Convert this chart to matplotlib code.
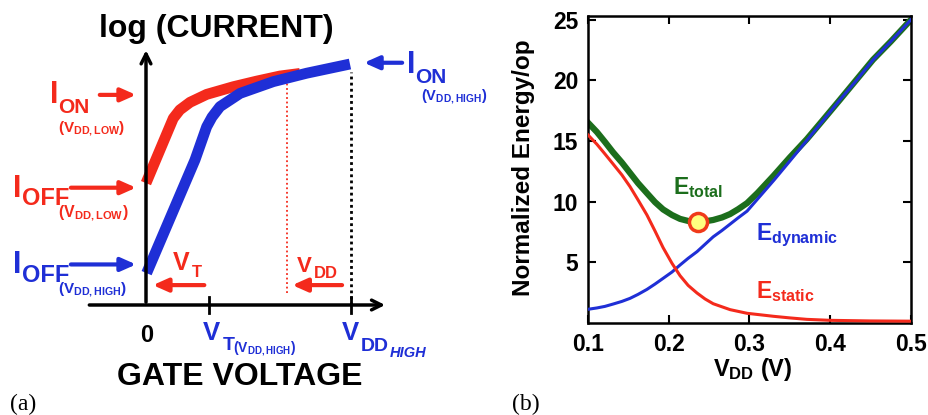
import matplotlib
matplotlib.use('Agg')
import matplotlib.pyplot as plt
from matplotlib.transforms import Affine2D

# panel (a): schematic transfer curves
# gate voltage in units of VDD_HIGH, current in arbitrary log units
vg_low = [0.0, 0.068, 0.133, 0.165, 0.215, 0.296, 0.426, 0.54, 0.654, 0.751]
logi_low = [4.78, 6.08, 7.32, 7.65, 7.95, 8.26, 8.56, 8.78, 8.98, 9.08]
vg_high = [0.003, 0.239, 0.296, 0.322, 0.361, 0.459, 0.621, 0.784, 0.995]
logi_high = [1.25, 5.69, 6.99, 7.37, 7.78, 8.30, 8.76, 9.09, 9.45]
vt_high = 0.307
vdd_low = 0.688
vdd_high = 1.0

# panel (b): normalized energy per operation
vdd_t = [0.100, 0.111, 0.121, 0.131, 0.142, 0.152, 0.162, 0.173, 0.183, 0.193,
         0.204, 0.214, 0.224, 0.235, 0.245, 0.255, 0.266, 0.276, 0.286, 0.297,
         0.31, 0.33, 0.35, 0.371, 0.39, 0.412, 0.43, 0.453, 0.475, 0.50]
e_total = [16.51, 15.74, 14.92, 14.07, 13.22, 12.37, 11.52, 10.70, 9.96, 9.36,
           8.90, 8.58, 8.41, 8.35, 8.38, 8.49, 8.70, 8.98, 9.38, 9.88,
           10.72, 12.15, 13.65, 15.15, 16.65, 18.4, 19.85, 21.7, 23.2, 25.0]
vdd_d = [0.100, 0.111, 0.121, 0.131, 0.142, 0.152, 0.162, 0.173, 0.183, 0.193,
         0.204, 0.214, 0.224, 0.235, 0.245, 0.255, 0.266, 0.276, 0.286, 0.297,
         0.33, 0.35, 0.371, 0.39, 0.412, 0.43, 0.453, 0.475, 0.50]
e_dynamic = [1.13, 1.24, 1.37, 1.56, 1.78, 2.03, 2.36, 2.77, 3.21, 3.68,
             4.20, 4.78, 5.33, 5.88, 6.49, 7.10, 7.63, 8.15, 8.67, 9.22,
             11.75, 13.35, 15.05, 16.6, 18.39, 19.8, 21.68, 23.2, 25.0]
vdd_s = [0.100, 0.111, 0.121, 0.131, 0.142, 0.152, 0.162, 0.173, 0.183, 0.193,
         0.204, 0.214, 0.224, 0.235, 0.245, 0.255, 0.276, 0.297, 0.33, 0.35,
         0.371, 0.40, 0.45, 0.50]
e_static = [15.50, 14.73, 13.93, 13.11, 12.20, 11.24, 10.14, 8.90, 7.58, 6.21,
            4.92, 3.90, 3.10, 2.47, 1.98, 1.59, 1.10, 0.80, 0.55, 0.42,
            0.30, 0.22, 0.17, 0.15]
v_opt = 0.236
e_opt = 8.32

RED = '#f42a1c'
BLUE = '#1f2fd6'
GREEN = '#1c6e1c'

plt.rcParams['font.family'] = 'Liberation Sans'
plt.rcParams['font.weight'] = 'bold'
plt.rcParams['mathtext.fontset'] = 'custom'
plt.rcParams['mathtext.rm'] = 'Liberation Sans:bold'
plt.rcParams['mathtext.bf'] = 'Liberation Sans:bold'
plt.rcParams['mathtext.it'] = 'Liberation Sans:bold:italic'

fig = plt.figure(figsize=(9.29, 4.15), dpi=100)
# label placement in image pixels (origin top left)
PX = Affine2D().scale(1 / 929, -1 / 415).translate(0, 1) + fig.transFigure


def put(parts, color):
    for x, y, s, size, style in parts:
        fig.text(x, y, s, transform=PX, fontsize=size, color=color,
                 style=style, va='baseline')


# ---------- panel (a) ----------
ax = fig.add_axes([0, 0, 500 / 929, 1])
ax.set_xlim(-146 / 205, (500 - 146) / 205)
ax.set_ylim(-110 / 25.5, 305 / 25.5)
ax.axis('off')

head = '->,head_length=0.7,head_width=0.35'
ax.annotate('', xy=(0, 10.1), xytext=(0, 0),
            arrowprops=dict(arrowstyle=head, lw=2.5, color='k'))
ax.annotate('', xy=(1.18, 0), xytext=(-0.29, 0),
            arrowprops=dict(arrowstyle=head, lw=2.5, color='k'))
for v in [vt_high, vdd_high]:
    ax.plot([v, v], [-0.32, 0.32], color='k', lw=2)

ax.plot([vdd_low, vdd_low], [0.47, 8.82], color=RED, lw=1.3, ls=(0, (1, 1.5)))
ax.plot([vdd_high, vdd_high], [0, 9.14], color='k', lw=2, ls=(0, (1, 1.2)))

ax.plot(vg_low, logi_low, color=RED, lw=7.8, solid_capstyle='butt', solid_joinstyle='round')
ax.plot(vg_high, logi_high, color=BLUE, lw=7.8, solid_capstyle='butt', solid_joinstyle='round')

arrow_kw = dict(arrowstyle='-|>,head_length=0.9,head_width=0.4', lw=3)
ax.annotate('', xy=(0.02, 0.78), xytext=(0.298, 0.78), arrowprops=dict(color=RED, **arrow_kw))
ax.annotate('', xy=(0.70, 0.78), xytext=(0.97, 0.78), arrowprops=dict(color=RED, **arrow_kw))
ax.annotate('', xy=(-0.035, 8.24), xytext=(-0.239, 8.24), arrowprops=dict(color=RED, **arrow_kw))
ax.annotate('', xy=(-0.035, 4.6), xytext=(-0.38, 4.6), arrowprops=dict(color=RED, **arrow_kw))
ax.annotate('', xy=(-0.035, 1.59), xytext=(-0.38, 1.59), arrowprops=dict(color=BLUE, **arrow_kw))
ax.annotate('', xy=(1.05, 9.5), xytext=(1.263, 9.5), arrowprops=dict(color=BLUE, **arrow_kw))

fig.text(216.5, 37, 'log (CURRENT)', transform=PX, fontsize=23, ha='center', va='baseline')
fig.text(240, 385, 'GATE VOLTAGE', transform=PX, fontsize=23, ha='center', va='baseline')
fig.text(147, 342, '0', transform=PX, fontsize=17, ha='center', va='baseline')

put([(50, 103.3, 'I', 22, 'normal'), (58.3, 113.3, 'ON', 15, 'normal'),
     (58.5, 131.7, r'$\mathrm{(V_{DD,LOW})}$', 11, 'normal')], RED)
put([(13, 196.7, 'I', 22, 'normal'), (21.7, 205, 'OFF', 17, 'normal'),
     (58.3, 216.7, r'$\mathrm{(V_{DD,LOW})}$', 11.5, 'normal')], RED)
put([(13, 273.3, 'I', 22, 'normal'), (21.7, 282, 'OFF', 17, 'normal'),
     (58.3, 293.3, r'$\mathrm{(V_{DD,HIGH})}$', 11, 'normal')], BLUE)
put([(406.7, 72.7, 'I', 22, 'normal'), (415, 83.3, 'ON', 15, 'normal'),
     (421, 100, r'$\mathrm{(V_{DD,HIGH})}$', 10.5, 'normal')], BLUE)
put([(173, 270, 'V', 18, 'normal'), (192, 277, 'T', 12, 'normal')], RED)
put([(297, 271.7, 'V', 16, 'normal'), (313.5, 278.3, 'DD', 12, 'normal')], RED)
put([(203.3, 340, 'V', 18.5, 'normal'), (222.5, 350, 'T', 14, 'normal'),
     (233, 351.7, r'$\mathrm{(V_{DD,HIGH})}$', 10, 'normal')], BLUE)
put([(341.7, 340, 'V', 18.5, 'normal'), (361, 351, 'DD', 14, 'normal'),
     (390, 356.7, 'HIGH', 10.5, 'italic')], BLUE)

fig.text(10 / 929, 1 - 410 / 415, '(a)', fontsize=17, family='Liberation Serif', weight='normal')

# ---------- panel (b) ----------
bx = fig.add_axes([588 / 929, 1 - 323 / 415, 323 / 929, 307 / 415])
bx.plot(vdd_t, e_total, color=GREEN, lw=4.5, zorder=2, solid_joinstyle='round')
bx.plot(vdd_d, e_dynamic, color=BLUE, lw=2.2, zorder=3)
bx.plot(vdd_s, e_static, color=RED, lw=2.2, zorder=4)
bx.plot([v_opt], [e_opt], 'o', ms=13, mfc='#ffff80', mec='#f03a1a', mew=2.5, zorder=5)

bx.set_xlim(0.1, 0.5)
bx.set_ylim(0, 25.3)
bx.set_xticks([0.1, 0.2, 0.3, 0.4, 0.5])
bx.set_xticklabels(['0.1', '0.2', '0.3', '0.4', '0.5'])
bx.set_yticks([5, 10, 15, 20, 25])
bx.tick_params(direction='in', length=6, width=1.5, top=True, right=True,
               labelsize=16.5, pad=7)
for s in bx.spines.values():
    s.set_linewidth(1.8)

bx.text(-0.201, 0.506, 'Normalized Energy/op', fontsize=17.5, rotation=90,
        ha='center', va='center', transform=bx.transAxes)
bx.text(0.511, -0.152, r'$\mathrm{V_{DD}}$ (V)', fontsize=17, ha='center', va='center',
        transform=bx.transAxes)

bx.text(0.205, 10.61, r'$\mathrm{E_{total}}$', fontsize=16.5, color=GREEN, va='baseline')
bx.text(0.308, 6.84, r'$\mathrm{E_{dynamic}}$', fontsize=16.5, color=BLUE, va='baseline')
bx.text(0.308, 2.03, r'$\mathrm{E_{static}}$', fontsize=16.5, color=RED, va='baseline')

fig.text(512 / 929, 1 - 410 / 415, '(b)', fontsize=17, family='Liberation Serif', weight='normal')

fig.savefig('out.png', dpi=100)
